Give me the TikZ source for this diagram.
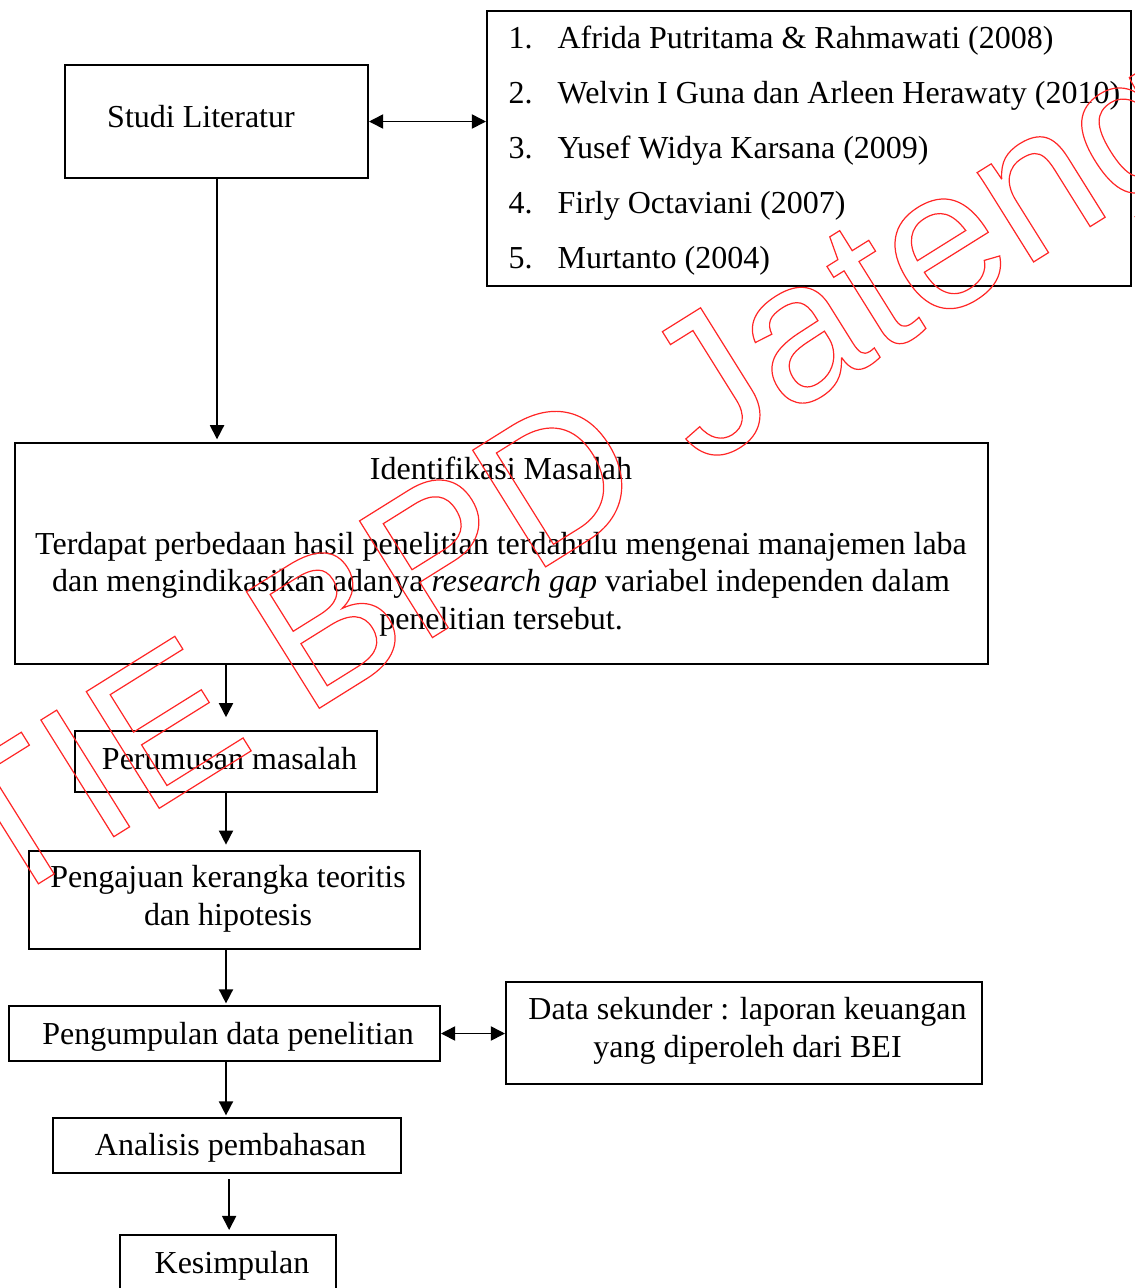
\documentclass[tikz,border=0pt]{standalone}
\usepackage{fontspec}
\setmainfont{Liberation Serif}
\newfontfamily\wmfont{Liberation Sans}
\usetikzlibrary{arrows.meta,fit}
\newcommand\litem[2]{\makebox[18.4pt][l]{#1}#2}
\begin{document}
\begin{tikzpicture}[x=0.375pt,y=-0.375pt,
  box/.style={draw,line width=0.75pt,inner sep=0pt},
  txt/.style={inner sep=0pt,font=\fontsize{12}{13.9}\selectfont,align=center,anchor=base},
  arr/.style={line width=0.6pt,-{Triangle[length=5.3pt,width=5.3pt]}},
  darr/.style={line width=0.6pt,{Triangle[length=5.3pt,width=5.3pt]}-{Triangle[length=5.3pt,width=5.3pt]}}]
\useasboundingbox (0,0) rectangle (1135,1288);
% boxes
\node[box,fit={(65,65) (368,178)}] (studi) {};
\node[box,fit={(487,11) (1131,286)}] (list) {};
\node[box,fit={(15,443) (988,664)}] (ident) {};
\node[box,fit={(75,731) (377,792)}] (perum) {};
\node[box,fit={(29,851) (420,949)}] (peng) {};
\node[box,fit={(9,1006) (440,1061)}] (kumpul) {};
\node[box,fit={(506,982) (982,1084)}] (data) {};
\node[box,fit={(53,1118) (401,1173)}] (anal) {};
\node[box,fit={(120,1235) (336,1310)}] (kes) {};
% texts
\node[txt] (tstudi) at (201,127) {Studi Literatur};
\node[txt,anchor=base west] (l1) at (508,48) {\litem{1.}{Afrida Putritama \& Rahmawati (2008)}};
\node[txt,anchor=base west] (l2) at (508,103) {\litem{2.}{Welvin I Guna dan Arleen Herawaty (2010)}};
\node[txt,anchor=base west] (l3) at (508,158) {\litem{3.}{Yusef Widya Karsana (2009)}};
\node[txt,anchor=base west] (l4) at (508,213) {\litem{4.}{Firly Octaviani (2007)}};
\node[txt,anchor=base west] (l5) at (508,268) {\litem{5.}{Murtanto (2004)}};
\node[txt] (tident) at (501,479) {Identifikasi Masalah};
\node[txt,font=\fontsize{12}{14.05}\selectfont] (tpara) at (501,629) {Terdapat perbedaan hasil penelitian terdahulu mengenai manajemen laba\\dan mengindikasikan adanya \textit{research gap} variabel independen dalam\\penelitian tersebut.};
\node[txt] (tperum) at (229.5,769) {Perumusan masalah};
\node[txt] (tpeng) at (228,925) {Pengajuan kerangka teoritis\\dan hipotesis};
\node[txt] (tkumpul) at (228,1044) {Pengumpulan data penelitian};
\node[txt,font=\fontsize{12}{14.25}\selectfont] (tdata) at (747.5,1057) {Data sekunder : laporan keuangan\\yang diperoleh dari BEI};
\node[txt] (tanal) at (230.5,1155) {Analisis pembahasan};
\node[txt] (tkes) at (232,1273) {Kesimpulan};
% connectors
\draw[darr] (studi.east) -- (studi.east -| list.west);
\draw[arr,shorten >=1pt] ([xshift=0.2pt]studi.south) -- ([xshift=0.2pt]studi.south |- ident.north);
\draw[arr,shorten >=4.8pt] (ident.south -| perum.north) -- (perum.north);
\draw[arr,shorten >=2pt] (perum.south) -- (perum.south |- peng.north);
\draw[arr,shorten >=0.6pt] (peng.south -| perum.south) -- (kumpul.north -| perum.south);
\draw[darr] (kumpul.east) -- (kumpul.east -| data.west);
\draw[arr,shorten >=0.6pt] (kumpul.south -| perum.south) -- (anal.north -| perum.south);
\draw[arr,shorten <=1.9pt,shorten >=1.5pt] ([xshift=0.8pt]anal.south) -- ([xshift=0.8pt]anal.south |- kes.north);
% watermark
\node[rotate=32,inner sep=0pt,text=red!85!white,font=\wmfont\fontsize{75}{78}\selectfont] (wm) at (520,525) {\special{pdf:literal direct 1 Tr 0.45 w}STIE BPD Jateng\special{pdf:literal direct 0 Tr}};
\end{tikzpicture}
\end{document}
